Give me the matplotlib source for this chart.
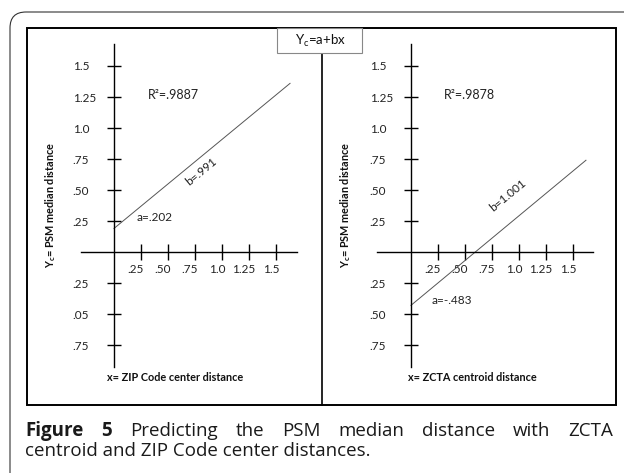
import matplotlib
matplotlib.use("Agg")
import matplotlib.pyplot as plt
from matplotlib.patches import Rectangle, FancyBboxPatch
from matplotlib.lines import Line2D
from matplotlib.transforms import ScaledTranslation

plt.rcParams['font.family'] = ['Lato', 'DejaVu Sans']

# values as printed on the figure
y_ticks = [-0.75, -0.5, -0.25, 0.25, 0.5, 0.75, 1.0, 1.25, 1.5]
y_labels_zip = ['.75', '.05', '.25', '.25', '.50', '.75', '1.0', '1.25', '1.5']
y_labels_zcta = ['.75', '.50', '.25', '.25', '.50', '.75', '1.0', '1.25', '1.5']
x_ticks = [0.25, 0.5, 0.75, 1.0, 1.25, 1.5]
x_labels = ['.25', '.50', '.75', '1.0', '1.25', '1.5']

# fitted lines, end points
zip_line_x = [0.0, 1.63]
zip_line_y = [0.19, 1.36]
zcta_line_x = [0.0, 1.62]
zcta_line_y = [-0.43, 0.74]

r2_labels = ['R²=.9887', 'R²=.9878']
a_labels = ['a=.202', 'a=-.483']
b_labels = ['b=.991', 'b=1.001']
x_titles = ['x= ZIP Code center distance', 'x= ZCTA centroid distance']
y_title = 'Y$_\\mathregular{c}$= PSM median distance'

W, H = 624, 473
fig = plt.figure(figsize=(W / 100, H / 100), dpi=100)
inch = fig.dpi_scale_trans


def pin(px, py):
    # pixel (top-left origin) -> inches from bottom-left
    return px / 100, (H - py) / 100


# panel layout in pixels: box left/right, origin, axis line extents
TOP, BOT = 28, 405
SX, SY = 108, 124
panels = [
    dict(x0=27, x1=322, ox=114, oy=252, xa=(81, 297)),
    dict(x0=322, x1=616, ox=411, oy=252, xa=(377, 593)),
]
yl_ext = (44, 367)

# annotation spots (data units)
r2_pos = [(0.31, 1.27), (0.30, 1.27)]
a_pos = [(0.21, 0.28), (0.19, -0.395)]
b_pos = [(0.81, 0.645), (0.90, 0.46)]
ytitle_x = [-0.59, -0.61]

lines = [(zip_line_x, zip_line_y), (zcta_line_x, zcta_line_y)]
ylabs = [y_labels_zip, y_labels_zcta]
txt_col = '#222222'

for i, p in enumerate(panels):
    ax = fig.add_axes([p['x0'] / W, 1 - BOT / H, (p['x1'] - p['x0']) / W, (BOT - TOP) / H])
    ax.set_xlim((p['x0'] - p['ox']) / SX, (p['x1'] - p['ox']) / SX)
    ax.set_ylim((p['oy'] - BOT) / SY, (p['oy'] - TOP) / SY)
    ax.patch.set_visible(False)
    for s in ['top', 'right']:
        ax.spines[s].set_visible(False)
    ax.spines['left'].set_position(('data', 0))
    ax.spines['bottom'].set_position(('data', 0))
    ax.spines['left'].set_bounds((p['oy'] - yl_ext[1]) / SY, (p['oy'] - yl_ext[0]) / SY)
    ax.spines['bottom'].set_bounds((p['xa'][0] - p['ox']) / SX, (p['xa'][1] - p['ox']) / SX)
    for s in ['left', 'bottom']:
        ax.spines[s].set_linewidth(1.0)

    ax.set_yticks(y_ticks, ylabs[i])
    ax.set_xticks(x_ticks, x_labels)
    ax.tick_params(axis='y', direction='inout', length=10.5, width=1.0, pad=24.5,
                   labelsize=8.5, labelcolor=txt_col)
    ax.tick_params(axis='x', direction='inout', length=11.5, width=1.0, pad=3,
                   labelsize=8.5, labelcolor=txt_col)
    for lab in ax.get_yticklabels():
        lab.set_ha('left')
    for lab in ax.get_xticklabels():
        lab.set_transform(lab.get_transform() + ScaledTranslation(-5 / 100, 0, inch))

    lx, ly = lines[i]
    ax.plot(lx, ly, color='#555555', lw=0.7)

    ax.text(*r2_pos[i], r2_labels[i], ha='left', va='center', fontsize=9, color=txt_col)
    ax.text(*a_pos[i], a_labels[i], ha='left', va='center', fontsize=8.5, color=txt_col)
    ax.text(*b_pos[i], b_labels[i], ha='center', va='center', fontsize=8.5, color=txt_col,
            rotation=39.5, rotation_mode='anchor')
    ax.text(ytitle_x[i], 0.38, y_title, rotation=90, ha='center', va='center',
            fontsize=7.8, fontweight='bold', color='#111111')
    ax.text(0.565, -1.016, x_titles[i], ha='center', va='center',
            fontsize=7.8, fontweight='bold', color='#111111')

# frames
fig.patches.append(FancyBboxPatch(pin(10, 600), 7.0, (600 - 12) / 100,
                                  boxstyle='round,pad=0,rounding_size=0.16',
                                  fill=False, ec='#333333', lw=0.8, transform=inch))
fig.patches.append(Rectangle(pin(27, BOT), (616 - 27) / 100, (BOT - TOP) / 100,
                             fill=False, ec='black', lw=1.4, transform=inch))
fig.lines.append(Line2D([3.22, 3.22], [pin(0, 53)[1], pin(0, BOT)[1]],
                        color='black', lw=1.2, transform=inch))
fig.patches.append(Rectangle(pin(277, 53), (362 - 277) / 100, (53 - 28) / 100,
                             fc='white', ec='#888888', lw=0.8, transform=inch, zorder=3))
fig.text(*pin(320, 41), 'Y$_\\mathregular{c}$=a+bx', ha='center', va='center',
         fontsize=9.5, color='#111111', transform=inch, zorder=4)

# caption, first line justified
cap_font = ['Open Sans', 'DejaVu Sans']
cap_size = 13.5
cap_color = '#1a1a1a'
line1 = [('Figure', 'bold'), ('5', 'bold'), ('Predicting', 'normal'), ('the', 'normal'),
         ('PSM', 'normal'), ('median', 'normal'), ('distance', 'normal'),
         ('with', 'normal'), ('ZCTA', 'normal')]
renderer = fig.canvas.get_renderer()
texts, widths = [], []
for w, wt in line1:
    t = fig.text(0, 0, w, fontsize=cap_size, fontweight=wt, family=cap_font,
                 color=cap_color, va='baseline', transform=inch)
    texts.append(t)
    widths.append(t.get_window_extent(renderer).width)
left, right = 25, 613
gap = (right - left - sum(widths)) / (len(widths) - 1)
x = left
for t, wd in zip(texts, widths):
    t.set_position(pin(x, 436))
    x += wd + gap
fig.text(*pin(left, 456), 'centroid and ZIP Code center distances.', fontsize=cap_size,
         family=cap_font, color=cap_color, va='baseline', transform=inch)

fig.savefig('out.png', dpi=100)
